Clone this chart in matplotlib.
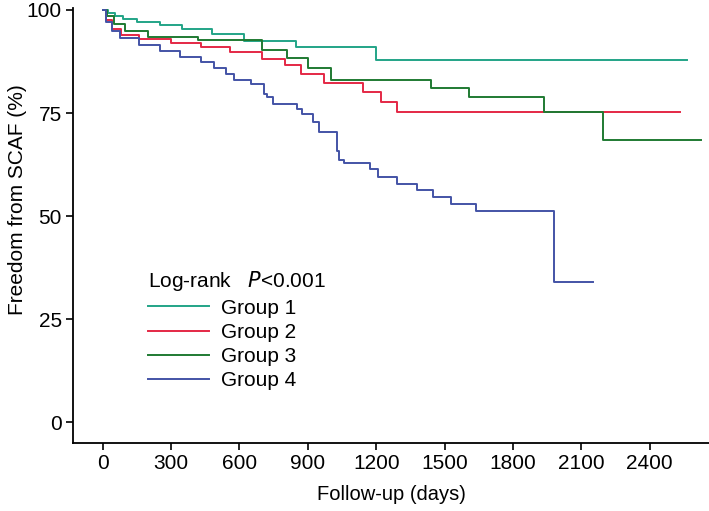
import matplotlib.pyplot as plt
import numpy as np

plt.rcParams['font.family'] = ['Liberation Sans', 'DejaVu Sans']

# Kaplan-Meier step points (day, % free from SCAF)
g1_days = [0, 25, 55, 90, 150, 250, 350, 480, 620, 850, 1200, 2562]
g1_surv = [100, 99.3, 98.6, 97.8, 97.0, 96.3, 95.3, 94.2, 92.5, 91.0, 87.9, 87.9]

g2_days = [0, 15, 40, 80, 160, 300, 430, 560, 700, 800, 870, 973, 1143, 1222, 1293, 2533]
g2_surv = [100, 97.5, 95.5, 94.0, 93.0, 92.0, 91.0, 89.8, 88.0, 86.7, 84.5, 82.4, 80.1, 77.8, 75.3, 75.3]

g3_days = [0, 20, 50, 100, 200, 420, 700, 810, 900, 1000, 1439, 1605, 1934, 2197, 2624]
g3_surv = [100, 98.5, 96.5, 95.0, 93.5, 92.7, 90.4, 88.4, 85.9, 83.0, 81.1, 78.9, 75.2, 68.4, 68.4]

g4_days = [0, 15, 40, 75, 160, 250, 340, 430, 490, 540, 578, 651, 708, 721, 748, 853, 875, 923,
           948, 1030, 1039, 1060, 1174, 1206, 1292, 1380, 1450, 1530, 1640, 1979, 2151]
g4_surv = [100, 97.0, 95.0, 93.3, 91.5, 90.0, 88.5, 87.5, 86.0, 84.5, 83.0, 82.0, 79.7, 79.0,
           77.3, 76.0, 74.8, 72.8, 70.4, 65.9, 63.7, 63.0, 61.4, 59.6, 57.8, 56.4, 54.7, 53.0,
           51.3, 34.1, 34.1]

groups = ["Group 1", "Group 2", "Group 3", "Group 4"]
colors = ["#23a487", "#e42845", "#1f7a32", "#4353a6"]
all_days = [g1_days, g2_days, g3_days, g4_days]
all_surv = [g1_surv, g2_surv, g3_surv, g4_surv]

fig = plt.figure(figsize=(7.09, 5.11), dpi=100)
ax = fig.add_axes([0.103, 0.1325, 0.897, 0.852])

lines = []
for days, surv, color, name in zip(all_days, all_surv, colors, groups):
    ln, = ax.step(days, surv, where='post', color=color, lw=1.4, label=name)
    lines.append(ln)

ax.set_xlim(-130, 2660)
ax.set_ylim(-5.1, 100.5)
ax.set_xticks(np.arange(0, 2401, 300))
ax.set_yticks([0, 25, 50, 75, 100])
ax.spines['top'].set_visible(False)
ax.spines['right'].set_visible(False)
ax.spines['left'].set_linewidth(1.3)
ax.spines['bottom'].set_linewidth(1.3)
ax.tick_params(direction='out', length=5, width=1.2, labelsize=15, pad=3)
ax.set_xlabel("Follow-up (days)", fontsize=14.5, labelpad=8)
ax.set_ylabel("Freedom from SCAF (%)", fontsize=15)
ax.yaxis.set_label_coords(-0.072, 0.56)

leg = fig.legend(handles=lines, loc='upper left', bbox_to_anchor=(138 / 709, 1 - 259 / 511),
                 frameon=False, borderpad=0, fontsize=15, handlelength=2.9, handletextpad=0.6,
                 labelspacing=0.25, title="Log-rank   $P$<0.001", title_fontsize=15)
leg._legend_box.align = "left"

fig.savefig("out.png", dpi=100)
